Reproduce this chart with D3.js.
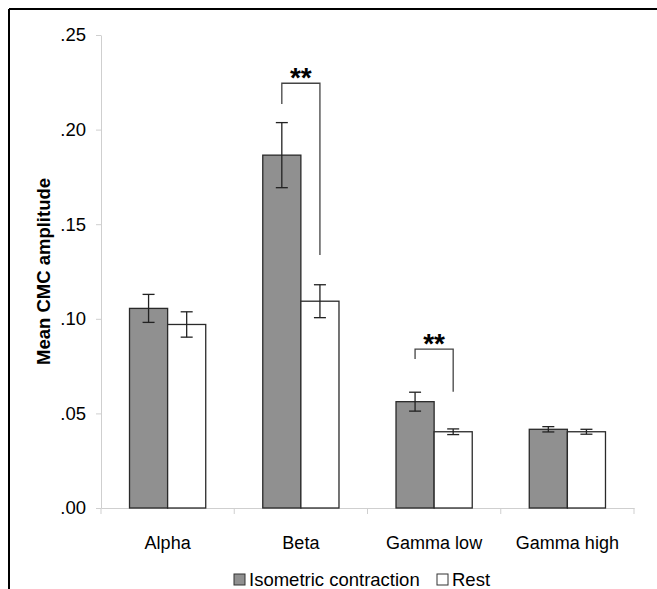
<!DOCTYPE html>
<html>
<head>
<meta charset="utf-8">
<script src="https://cdn.jsdelivr.net/npm/d3@7"></script>
<style>
  body { margin: 0; background: #fff; }
  text { font-family: "Liberation Sans", Arial, sans-serif; }
</style>
</head>
<body>
<div id="vis"></div>
<script>
// data
const categories = ["Alpha", "Beta", "Gamma low", "Gamma high"];
const contraction = [0.1055, 0.1865, 0.0562, 0.0416];
const contractionErr = [0.0074, 0.0172, 0.0050, 0.0014];
const rest = [0.0970, 0.1093, 0.0403, 0.0403];
const restErr = [0.0067, 0.0087, 0.0015, 0.0013];
const yTicks = [0, 0.05, 0.10, 0.15, 0.20, 0.25];
const seriesNames = ["Isometric contraction", "Rest"];

// significance brackets
const sigCategories = ["Beta", "Gamma low"];
const sigTop = [0.2245, 0.0840];
const sigLeftEnd = [0.2135, 0.0788];
const sigRightEnd = [0.1337, 0.0615];
const sigLabel = ["**", "**"];

const svg = d3.select("#vis")
    .append("svg")
    .attr("width", 657)
    .attr("height", 589);

// frame of the figure panel
svg.append("line").attr("x1", 9).attr("x2", 657).attr("y1", 9).attr("y2", 9)
    .attr("stroke", "#000").attr("stroke-width", 2);
svg.append("line").attr("x1", 9).attr("x2", 9).attr("y1", 9).attr("y2", 589)
    .attr("stroke", "#000").attr("stroke-width", 2);

const x = d3.scaleBand()
    .domain(categories)
    .range([101, 634]);

const y = d3.scaleLinear()
    .domain([0, 0.25])
    .range([508, 35]);

const bw = x.bandwidth();
const barW = bw * 0.286;
const colors = ["#909090", "#ffffff"];

// y axis
const yAxis = svg.append("g")
    .attr("transform", "translate(101,0)")
    .call(d3.axisLeft(y).tickValues(yTicks).tickSize(5).tickSizeOuter(0)
        .tickFormat(d => d3.format(".2f")(d).replace(/^0/, "")));
yAxis.select(".domain").attr("stroke", "#cfcfcf");
yAxis.selectAll(".tick line").attr("stroke", "#cfcfcf");
yAxis.selectAll(".tick text")
    .attr("x", -15)
    .attr("fill", "#000")
    .style("font-size", "18.5px");

// x axis
const xAxis = svg.append("g")
    .attr("transform", "translate(0,508)")
    .call(d3.axisBottom(x).tickSize(0).tickSizeOuter(0));
xAxis.select(".domain").attr("stroke", "#cfcfcf");
xAxis.selectAll(".tick text")
    .attr("y", 28)
    .attr("fill", "#000")
    .style("font-size", "18px");

// tick marks at category boundaries
svg.append("g").selectAll("line")
    .data(categories.concat([null]))
    .enter()
    .append("line")
    .attr("x1", (d, i) => i < categories.length ? x(d) : x(categories[i - 1]) + bw)
    .attr("x2", (d, i) => i < categories.length ? x(d) : x(categories[i - 1]) + bw)
    .attr("y1", 508)
    .attr("y2", 514)
    .attr("stroke", "#cfcfcf");

svg.append("text")
    .attr("transform", "translate(50," + y(0.125) + ") rotate(-90)")
    .attr("text-anchor", "middle")
    .style("font-size", "18.5px")
    .style("font-weight", "bold")
    .text("Mean CMC amplitude");

// bars
const series = [contraction, rest];
const errs = [contractionErr, restErr];

series.forEach(function (vals, s) {
    const g = svg.append("g");
    const barX = (d, i) => x(categories[i]) + bw / 2 - barW + s * barW;

    g.selectAll("rect")
        .data(vals)
        .enter()
        .append("rect")
        .attr("x", barX)
        .attr("y", d => y(d))
        .attr("width", barW)
        .attr("height", d => y(0) - y(d))
        .attr("fill", colors[s])
        .attr("stroke", "#2a2a2a")
        .attr("stroke-width", 1.3);

    // error bars
    const eb = g.selectAll("g.err")
        .data(vals)
        .enter()
        .append("g")
        .attr("class", "err")
        .attr("stroke", "#222")
        .attr("stroke-width", 1.3);
    const cx = (d, i) => barX(d, i) + barW / 2;
    eb.append("line")
        .attr("x1", cx).attr("x2", cx)
        .attr("y1", (d, i) => y(d + errs[s][i]))
        .attr("y2", (d, i) => y(d - errs[s][i]));
    [1, -1].forEach(function (sign) {
        eb.append("line")
            .attr("x1", (d, i) => cx(d, i) - 6)
            .attr("x2", (d, i) => cx(d, i) + 6)
            .attr("y1", (d, i) => y(d + sign * errs[s][i]))
            .attr("y2", (d, i) => y(d + sign * errs[s][i]));
    });
});

// significance brackets
sigCategories.forEach(function (c, k) {
    const lx = x(c) + bw / 2 - barW / 2;
    const rx = x(c) + bw / 2 + barW / 2;
    svg.append("path")
        .attr("d", "M" + lx + "," + y(sigLeftEnd[k]) + "V" + y(sigTop[k]) +
            "H" + rx + "V" + y(sigRightEnd[k]))
        .attr("fill", "none")
        .attr("stroke", "#444")
        .attr("stroke-width", 1.3);
    svg.append("text")
        .attr("x", (lx + rx) / 2)
        .attr("y", y(sigTop[k]) + 4)
        .attr("text-anchor", "middle")
        .style("font-size", "28px")
        .style("font-weight", "bold")
        .text(sigLabel[k]);
});

// legend
const legX = [234, 437];
const leg = svg.append("g").selectAll("g")
    .data(seriesNames)
    .enter()
    .append("g")
    .attr("transform", (d, i) => "translate(" + legX[i] + ",574)");
leg.append("rect")
    .attr("width", 11)
    .attr("height", 11)
    .attr("fill", (d, i) => colors[i])
    .attr("stroke", "#333");
leg.append("text")
    .attr("x", 15)
    .attr("y", 12)
    .style("font-size", "18.5px")
    .text(d => d);
</script>
</body>
</html>
